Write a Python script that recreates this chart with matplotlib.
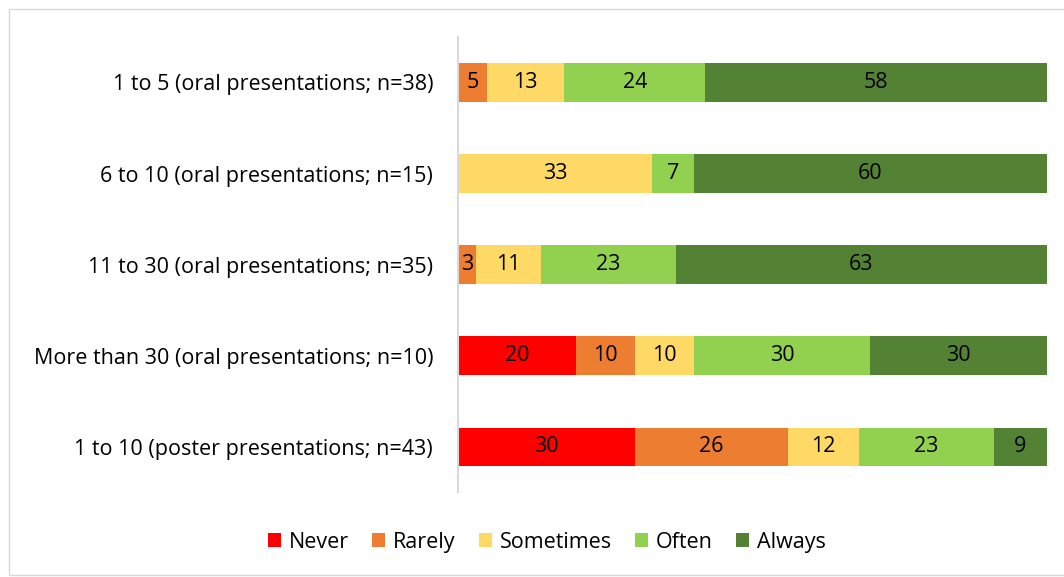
import matplotlib.pyplot as plt
from matplotlib.patches import Rectangle

plt.rcParams['font.family'] = ['Open Sans', 'DejaVu Sans']

# categories, top to bottom
groups = ["1 to 5 (oral presentations; n=38)",
          "6 to 10 (oral presentations; n=15)",
          "11 to 30 (oral presentations; n=35)",
          "More than 30 (oral presentations; n=10)",
          "1 to 10 (poster presentations; n=43)"]

answers = ["Never", "Rarely", "Sometimes", "Often", "Always"]
never = [0, 0, 0, 20, 30]
rarely = [5, 0, 3, 10, 26]
sometimes = [13, 33, 11, 10, 12]
often = [24, 7, 23, 30, 23]
always = [58, 60, 63, 30, 9]

colors = ["#FF0000", "#ED7D31", "#FFD966", "#92D050", "#548235"]

fig = plt.figure(figsize=(10.64, 5.77), dpi=100)
ax = fig.add_axes([0.4305, 0.147, 0.5535, 0.789])

# light grey chart-area frame
fig.patches.append(Rectangle((9 / 1064, 2 / 577), 1060 / 1064, 566 / 577,
                             transform=fig.transFigure, fill=False,
                             edgecolor="#D9D9D9", linewidth=1))

fs = 15.5
ypos = list(range(len(groups)))
left = [0] * len(groups)
for name, vals, col in zip(answers, [never, rarely, sometimes, often, always], colors):
    ax.barh(ypos, vals, left=left, height=0.42, color=col, label=name)
    for i, v in enumerate(vals):
        if v > 0:
            ax.text(left[i] + v / 2, ypos[i], str(v), ha="center", va="center",
                    fontsize=fs, color="black")
    left = [l + v for l, v in zip(left, vals)]

ax.set_xlim(0, 100)
ax.set_ylim(len(groups) - 0.5, -0.5)
ax.set_yticks(ypos)
ax.set_yticklabels(groups, fontsize=fs)
ax.tick_params(axis="y", length=0, pad=18)
ax.set_xticks([])
for s in ["top", "right", "bottom"]:
    ax.spines[s].set_visible(False)
ax.spines["left"].set_color("#D9D9D9")
ax.spines["left"].set_linewidth(1.5)

fig.legend(loc="center", bbox_to_anchor=(0.514, 0.06), ncol=5, frameon=False,
           fontsize=fs, handlelength=0.6, handleheight=0.6, handletextpad=0.35,
           columnspacing=1.1)

fig.savefig("out.png", dpi=100)
